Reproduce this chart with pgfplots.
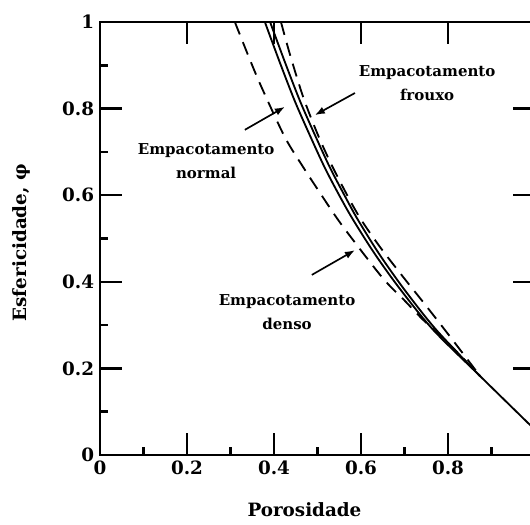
\documentclass[border=0pt]{standalone}
\usepackage{fontspec}
\setmainfont{DejaVu Serif}
\usepackage{pgfplots}
\pgfplotsset{compat=1.18}
\usetikzlibrary{arrows.meta}

\begin{document}
\begin{tikzpicture}
\begin{axis}[
  scale only axis, width=261pt, height=259.8pt,
  xmin=0, xmax=1, ymin=0, ymax=1,
  axis line style={line width=1.5pt},
  xtick={0,0.2,0.4,0.6,0.8,1}, ytick={0,0.2,0.4,0.6,0.8,1},
  xticklabels={0,0.2,0.4,0.6,0.8,{}}, yticklabels={0,0.2,0.4,0.6,0.8,1},
  minor xtick={0.1,0.3,0.5,0.7,0.9}, minor ytick={0.1,0.3,0.5,0.7,0.9},
  xtick pos=left, ytick pos=left,
  tick align=inside,
  major tick length=13pt, minor tick length=5pt,
  tick style={line width=1.5pt, black},
  tick label style={font=\fontsize{11}{13}\selectfont\bfseries},
  /pgf/number format/assume math mode=true,
  xlabel={Porosidade}, ylabel={Esfericidade, φ},
  xlabel style={at={(axis description cs:0.47,-0.127)}, anchor=center, font=\fontsize{11}{13}\selectfont\bfseries},
  ylabel style={at={(axis description cs:-0.18,0.49)}, anchor=center, font=\fontsize{11}{13}\selectfont\bfseries},
  clip=false,
]
% empacotamento normal (linha dupla)
\addplot[black, line width=1.1pt, smooth] coordinates {
  (0.379,1.0) (0.414,0.905) (0.448,0.817) (0.483,0.737) (0.517,0.663)
  (0.552,0.596) (0.582,0.543) (0.632,0.464) (0.690,0.383) (0.766,0.289)
  (0.874,0.182) (0.989,0.069) (1.0,0.058)
};
\addplot[black, line width=1.1pt, smooth] coordinates {
  (0.391,1.0) (0.426,0.905) (0.460,0.817) (0.495,0.737) (0.529,0.663)
  (0.564,0.596) (0.593,0.543) (0.642,0.464) (0.699,0.383) (0.773,0.289)
  (0.874,0.182)
};
% empacotamento denso
\addplot[black, line width=1.1pt, smooth, dash pattern=on 8pt off 5pt] coordinates {
  (0.310,1.0) (0.345,0.912) (0.372,0.848) (0.425,0.734) (0.467,0.665)
  (0.506,0.605) (0.556,0.531) (0.648,0.411) (0.699,0.358) (0.743,0.312)
  (0.805,0.254) (0.874,0.182)
};
% empacotamento frouxo
\addplot[black, line width=1.1pt, smooth, dash pattern=on 8pt off 5pt] coordinates {
  (0.416,1.0) (0.437,0.924) (0.467,0.827) (0.499,0.744) (0.529,0.677)
  (0.563,0.610) (0.598,0.547) (0.644,0.480) (0.697,0.411) (0.743,0.353)
  (0.805,0.273) (0.874,0.182)
};
% ticks on top and right (major only)
\pgfplotsinvokeforeach{0.2,0.4,0.6,0.8}{
  \draw[line width=1.5pt] (axis cs:#1,1) -- ++(0,-13pt);
  \draw[line width=1.5pt] (axis cs:1,#1) -- ++(-13pt,0);
}
% annotations
\node[align=center, font=\fontsize{9}{14}\selectfont\bfseries] at (axis cs:0.244,0.679) {Empacotamento\\normal};
\node[align=center, font=\fontsize{9}{14}\selectfont\bfseries] at (axis cs:0.752,0.859) {Empacotamento\\frouxo};
\node[align=center, font=\fontsize{9}{14}\selectfont\bfseries] at (axis cs:0.430,0.330) {Empacotamento\\denso};
\draw[-{Latex[length=6pt,width=4.5pt]}, line width=1pt] (axis cs:0.333,0.751) -- (axis cs:0.425,0.804);
\draw[-{Latex[length=6pt,width=4.5pt]}, line width=1pt] (axis cs:0.586,0.836) -- (axis cs:0.494,0.785);
\draw[-{Latex[length=6pt,width=4.5pt]}, line width=1pt] (axis cs:0.487,0.416) -- (axis cs:0.586,0.473);
\end{axis}
\pgfresetboundingbox
\useasboundingbox (-60pt,-41.4pt) rectangle (258pt,273pt);
\end{tikzpicture}
\end{document}
